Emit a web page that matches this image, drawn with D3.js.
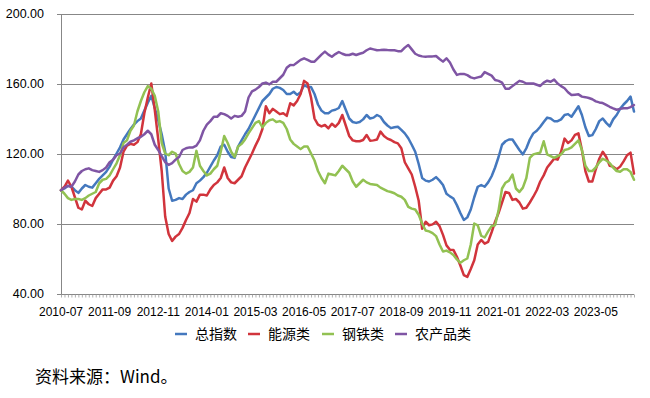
<!DOCTYPE html>
<html><head><meta charset="utf-8">
<script src="https://cdn.jsdelivr.net/npm/d3@7"></script>
<style>
html,body{margin:0;padding:0;background:#fff;}
svg{display:block;}
text{font-family:"Liberation Sans",Arial,sans-serif;fill:#000;}
.cjk{font-family:"Noto Sans CJK SC","Noto Sans",sans-serif;}
</style></head>
<body>
<svg id="chart" width="650" height="398"></svg>
<script>
// ---------- data ----------
const startYear = 2010, startMonth = 7, monthCount = 166;
const tickLabels = ["2010-07","2011-09","2012-11","2014-01","2015-03","2016-05","2017-07","2018-09","2019-11","2021-01","2022-03","2023-05"];
const yTicks = [40, 80, 120, 160, 200];
const seriesNames = ["总指数","能源类","钢铁类","农产品类"];
const seriesColors = ["#4478be","#d1343c","#92c152","#7f55a4"];

const total = [99,100,101.5,101,99,97.5,100,102,101,100.5,103,105.5,107.5,109.5,112.5,116.5,120,123.5,128,131,
134,136.5,138.5,140,144.5,149,153,146,139,131,121,100,93,93.5,94.5,94,96.5,98,99,103,
104.5,106.5,109,112.5,116,119,124,125,121,118,117.5,124,127.5,131,134,138,142,146,150,152,
154,157,158,157.5,156.3,154,154,155.3,153.5,155,159,158,158,154,148,144.5,143,143,144.5,145,
146,150,145,140,138,137.5,138,139.5,142,140,140.5,142,141,138,136,134.5,135,135.3,133.5,131.5,
128.7,125,121,114,106,104.5,104,105,106.5,104.5,102,97,95.5,94.3,90.5,86,82,83.5,88,95,
101,102,101,103.5,107,112,118,125,127,128,128,125,122,119.5,123,128,131.5,133,135.3,138,
140.5,140,138.5,138.5,139.5,142,142.5,141,144,147,142,135,130,130.5,134,138.5,140,137.5,135.5,139.5,
142,145.5,148,150,152.5,144];

const energy = [99,101,104.5,101,95,89,88,93,91,90,94.5,97,99.5,99.5,100.5,104.5,107,112,121,124.5,
125.5,125,126.5,131,143,152,160,145,128,110,84,74,70,72.5,74,77.5,82,86,94,92.5,
96.5,96.5,96,99.5,102,103.5,106,112,106,103.5,103,105,107,112,116,120,124.5,128.5,134,147,
143,145.5,144,142.5,143,141.5,148.7,147.5,150,154,161.5,160,152,140,136.5,135.5,136.3,134.4,137,135.3,
137.5,142,136,130,127.5,127,127,127.7,130.6,127.3,127.5,128,132.5,130,128.5,127.7,126.5,125.8,123,115,
111.5,108,101,93,77,81,79,79.5,81,78.5,73.5,67.5,65,64.9,61,56,50.5,49.5,54,59,
68,70.6,68.5,69.5,75,81,86,92,98,97.5,93.5,94,92,88.5,89,92,95.3,99,104,107.5,
112,114.5,117,116.5,121,128.5,126,127.5,130.6,131.5,122,110,104,104,111,117,121,118,113,112.5,
111,112.5,115.5,119,120.5,108.5];

const steel = [99,97,94.5,93.5,94,94,93.5,94.5,96,97,98,103,105,105.5,107.5,111,114.4,119,126,127.5,
133,136,144,150,155,158.5,157,153,144,126,120,119,121,120,114,110,108.5,109.5,112,121.5,
113,110,107.5,108.5,111,113,121,130,126,121,118,124,125.5,128,131.5,134.5,137.5,138.5,135,137.5,
139,139.5,138,138.5,137.5,134,128,125.5,124,122.5,124,124,120,116,110,106,103,108.5,108,107.5,
110,113,111,109,104,101,103,105,103.5,102.6,102.3,102,100.5,99.5,98.5,98,97.3,96,95.3,93.5,
89.5,88.5,88,85,80,76,75.5,74.5,72.8,68,64,64.5,63.5,62,59.5,57.5,59,60,68,80,
79,73,72,75.5,78.5,79,87.5,100,103.3,104.5,108,100,98,100.5,106,117.5,119.5,120,120.5,127,
119.5,118.5,117.5,118.5,119.5,122,122.5,123.5,125.5,127.5,122,113,110,110,112,115,117,116,114.5,112,
110,109.6,111,111,109.5,105];

const agri = [99,100.5,101.5,101,104,108,110,111,111.5,110.5,110,109.5,110.5,112,115,116.5,119,120,123.5,125,
126.7,127.5,128.7,129.5,131,133,131,125,122,118.5,115,113.5,114.5,116.5,118,122,123,123.5,123.5,124.5,
127.5,133,136.5,138.5,141,141,143,142.5,141.5,140,141.5,141,141.5,144,152,155.5,156.5,158,160,160.5,
159.5,161,161,163,165,169,170.6,170.5,172,173.5,174.4,173.5,172.5,172.5,174.5,176.5,178.2,176.5,175.3,176.8,
178,177,176.3,176.3,177,176.3,177,177.6,179,180,179.5,179,179.1,179.3,179.1,179,179,178.5,178.5,180.5,
182,179.5,177,176,175.5,175.3,175.5,175.5,175.7,174,172.5,174.4,172,168,164.9,165.5,165.5,164.8,163.5,162.9,
163.5,164,166.5,165.5,164.5,162,161.5,160.5,157,157,158.5,160,161.5,161,160,160,160,159.3,158.6,160.5,
161.6,161,162.2,160,158.5,157.3,155,153.4,153.6,153.8,152.5,152.2,151.7,151,149.8,149.2,148.8,147.8,146.7,145.8,
145,145.5,145.8,145.8,146.5,147.7];

const seriesValues = [total, energy, steel, agri];

// categories (monthly)
const categories = d3.range(monthCount).map(i => {
  const m = startMonth - 1 + i;
  const yr = startYear + Math.floor(m / 12);
  const mm = (m % 12) + 1;
  return yr + "-" + (mm < 10 ? "0" + mm : mm);
});

// ---------- layout ----------
const svg = d3.select("#chart");
const plotL = 61, plotR = 634, plotT = 13.5, plotB = 293.5;

const x = d3.scaleLinear().domain([0, monthCount - 1]).range([plotL, plotR]);
const y = d3.scaleLinear().domain([40, 200]).range([plotB, plotT]);

// gridlines
svg.append("g").selectAll("line").data(yTicks).join("line")
  .attr("x1", plotL - 4).attr("x2", plotR)
  .attr("y1", d => Math.round(y(d)) + 0.5).attr("y2", d => Math.round(y(d)) + 0.5)
  .attr("stroke", "#878787").attr("stroke-width", 1);

// y axis line
svg.append("line").attr("x1", plotL + 0.5).attr("x2", plotL + 0.5)
  .attr("y1", Math.round(y(200))).attr("y2", Math.round(y(40)) + 1).attr("stroke", "#878787");

// y labels
svg.append("g").selectAll("text").data(yTicks).join("text")
  .attr("x", 44).attr("y", d => y(d)).attr("dy", "0.36em")
  .attr("text-anchor", "end").style("font-size", "12.5px")
  .text(d => d3.format(".2f")(d));

// x axis with minor ticks at every category
const xAxis = d3.axisBottom(x)
  .tickValues(d3.range(monthCount))
  .tickSize(3)
  .tickFormat(() => "");
const gx = svg.append("g").attr("transform", `translate(0,${Math.round(y(40)) + 0.5})`).call(xAxis);
gx.select(".domain").remove();
gx.selectAll(".tick line").attr("stroke", "#9a9a9a").attr("stroke-width", 0.8);

// x labels
svg.append("g").selectAll("text").data(tickLabels).join("text")
  .attr("x", d => x(categories.indexOf(d)))
  .attr("y", 312).attr("dy", "0.36em")
  .attr("text-anchor", "middle").style("font-size", "12px")
  .text(d => d);

// series lines
const line = d3.line().x((d, i) => x(i)).y(d => y(d));
svg.append("g").selectAll("path").data(seriesValues).join("path")
  .attr("d", d => line(d))
  .attr("fill", "none")
  .attr("stroke", (d, i) => seriesColors[i])
  .attr("stroke-width", 2.5)
  .attr("stroke-linejoin", "round")
  .attr("stroke-linecap", "round");

// legend
const legendX = [175, 248, 322, 395];
const lg = svg.append("g");
seriesNames.forEach((name, i) => {
  lg.append("line").attr("x1", legendX[i]).attr("x2", legendX[i] + 12)
    .attr("y1", 334).attr("y2", 334)
    .attr("stroke", seriesColors[i]).attr("stroke-width", 2.5);
  lg.append("text").attr("class", "cjk")
    .attr("x", legendX[i] + 20).attr("y", 334).attr("dy", "0.36em")
    .style("font-size", "14px").text(name);
});

// source note
svg.append("text").attr("class", "cjk")
  .attr("x", 35).attr("y", 377).attr("dy", "0.36em")
  .style("font-size", "17px").text("资料来源：Wind。");
</script>
</body></html>
